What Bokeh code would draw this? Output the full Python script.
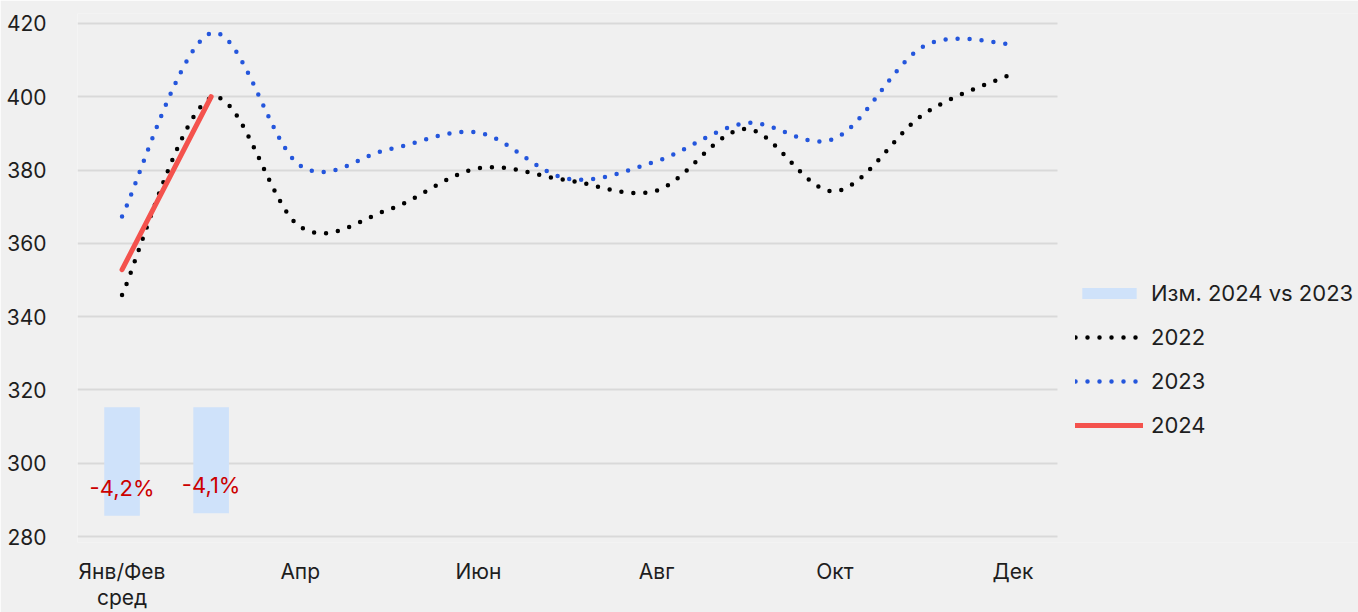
import numpy as np
from bokeh.plotting import figure
from bokeh.models import (Range1d, FixedTicker, Legend, LegendItem, ColumnDataSource)
from bokeh.core.properties import value
from bokeh.embed import file_html
from bokeh.resources import INLINE

# ---------------- data ----------------
months = ["Янв/Фев\nсред", "Мар", "Апр", "Май", "Июн", "Июл", "Авг", "Сен", "Окт", "Ноя", "Дек"]
tick_labels = {0: "Янв/Фев\nсред", 2: "Апр", 4: "Июн", 6: "Авг", 8: "Окт", 10: "Дек"}
y2022 = [345.9, 399.7, 364.5, 369.3, 380.5, 377.2, 374.4, 391.2, 374.2, 395.3, 406.3]
y2023 = [367.3, 417.4, 381.2, 385.7, 390.2, 377.6, 382.4, 392.8, 388.6, 413.8, 414.3]
y2024 = [352.8, 400.0]
chg = [-4.2, -4.1]
chg_labels = ["-4,2%", "-4,1%"]
y_ticks = [280, 300, 320, 340, 360, 380, 400, 420]

FONT = "Inter"
BG = "#f0f0f0"
TXT = "#1e1e1e"


def smooth(xs, ys, n=30):
    """Excel-like smoothed line (Catmull-Rom Bezier) for rendering."""
    P = np.column_stack([np.asarray(xs, float), np.asarray(ys, float)])
    out = []
    m = len(P)
    for i in range(m - 1):
        p0 = P[i - 1] if i > 0 else P[i]
        p1, p2 = P[i], P[i + 1]
        p3 = P[i + 2] if i + 2 < m else P[i + 1]
        c1 = p1 + (p2 - p0) / 6.0
        c2 = p2 - (p3 - p1) / 6.0
        ts = np.linspace(0, 1, n, endpoint=(i == m - 2))
        for t in ts:
            b = ((1 - t) ** 3) * p1 + 3 * ((1 - t) ** 2) * t * c1 + 3 * (1 - t) * t * t * c2 + t ** 3 * p2
            out.append(b)
    out = np.array(out)
    return out[:, 0], out[:, 1]


x_all = list(range(len(months)))

p = figure(width=1358, height=612, output_backend="svg", toolbar_location=None,
           x_range=Range1d(-0.5, 13.878), y_range=Range1d(278.37, 422.71),
           min_border_left=77, min_border_right=0, min_border_top=13, min_border_bottom=40,
           background_fill_color=BG, border_fill_color=BG, outline_line_color=None)

p.extra_y_ranges = {"pct": Range1d(-5.23, 15.23)}

# bars
bar_src = ColumnDataSource(dict(x=[0, 1], top=[0, 0], bottom=chg, lab=chg_labels))
bars = p.vbar(x="x", top="top", bottom="bottom", width=0.4, source=bar_src,
              y_range_name="pct", fill_color="#cfe2fa", line_color=None)
p.text(x="x", y="bottom", text="lab", source=bar_src, y_range_name="pct",
       text_align="center", text_baseline="middle", y_offset=-28,
       text_color="#cc0000", text_font=value(FONT), text_font_size="22px")

sx, sy = smooth(x_all, y2022)
l22 = p.line(sx, sy, line_color="#000000", line_width=4.5, line_dash="0 12", line_cap="round")
sx, sy = smooth(x_all, y2023)
l23 = p.line(sx, sy, line_color="#2456dc", line_width=4.5, line_dash="0 12", line_cap="round")
l24 = p.line(x_all[:len(y2024)], y2024, line_color="#f4524d", line_width=5, line_cap="round")

# axes
p.xaxis.ticker = FixedTicker(ticks=sorted(tick_labels.keys()))
p.xaxis.major_label_overrides = tick_labels
p.yaxis.ticker = FixedTicker(ticks=y_ticks)
for ax in (p.xaxis[0], p.yaxis[0]):
    ax.axis_line_color = None
    ax.major_tick_line_color = None
    ax.minor_tick_line_color = None
    ax.major_label_text_font = FONT
    ax.major_label_text_font_size = "21px"
    ax.major_label_text_color = TXT
p.yaxis.major_label_standoff = 25
p.xaxis.major_label_standoff = 10
p.xaxis.major_label_text_line_height = 1.05

p.xgrid.grid_line_color = None
p.ygrid.ticker = FixedTicker(ticks=y_ticks)
p.ygrid.grid_line_color = "#d9d9d9"
p.ygrid.grid_line_width = 2
p.ygrid.cross_bounds = (-0.5, 10.5)

legend = Legend(items=[
    LegendItem(label="Изм. 2024 vs 2023", renderers=[bars]),
    LegendItem(label="2022", renderers=[l22]),
    LegendItem(label="2023", renderers=[l23]),
    LegendItem(label="2024", renderers=[l24]),
], location=(998, 104), orientation="vertical", padding=0, margin=0, spacing=18,
    glyph_width=68, glyph_height=14, label_standoff=8, label_height=20,
    label_text_font=FONT, label_text_font_size="22px", label_text_color=TXT,
    background_fill_alpha=0, border_line_color=None)
p.add_layout(legend, "center")

open("out.html", "w").write(file_html(p, INLINE))
